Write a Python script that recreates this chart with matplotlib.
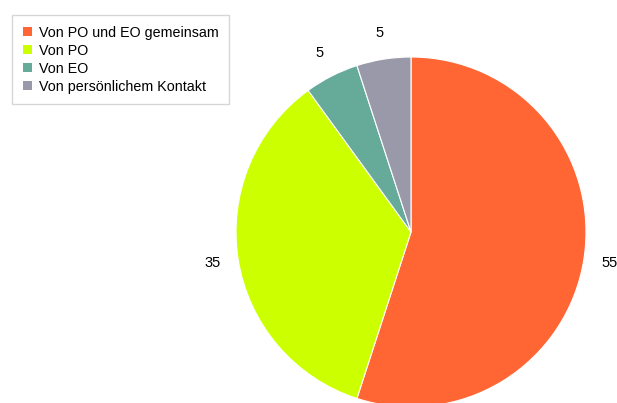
import matplotlib
matplotlib.use("Agg")
import matplotlib.pyplot as plt

plt.rcParams['font.family'] = ['Liberation Sans', 'DejaVu Sans']

categories = ["Von PO und EO gemeinsam", "Von PO", "Von EO", "Von persönlichem Kontakt"]
values = [55, 35, 5, 5]
colors = ["#FF6633", "#CCFF00", "#66AA99", "#9999AA"]

W, H = 617, 403
fig = plt.figure(figsize=(W/100, H/100), dpi=100)
cx, cy, r = 411, 232, 175
ax = fig.add_axes([(cx-r)/W, (H-cy-r)/H, 2*r/W, 2*r/H])
wedges, texts = ax.pie(values, colors=colors, startangle=90, counterclock=False,
                       labels=[str(v) for v in values], labeldistance=1.15,
                       wedgeprops=dict(edgecolor='white', linewidth=0.8),
                       textprops=dict(fontsize=10.5, color='black'))
for t in texts:
    t.set_ha('center'); t.set_va('center')
ax.set_xlim(-1, 1); ax.set_ylim(-1, 1)
ax.set_aspect('equal')
ax.axis('off')

leg = fig.legend(wedges, categories, loc='upper left',
                 bbox_to_anchor=(12/W, 1-15/H), borderaxespad=0,
                 fontsize=10.25, handlelength=0.65, handleheight=0.65,
                 handletextpad=0.5, labelspacing=0.28, borderpad=0.75,
                 frameon=True, fancybox=False, edgecolor='#CCCCCC')
leg.get_frame().set_linewidth(1.0)
for h in leg.legend_handles:
    h.set_edgecolor('none')

fig.savefig("out.png", dpi=100)
